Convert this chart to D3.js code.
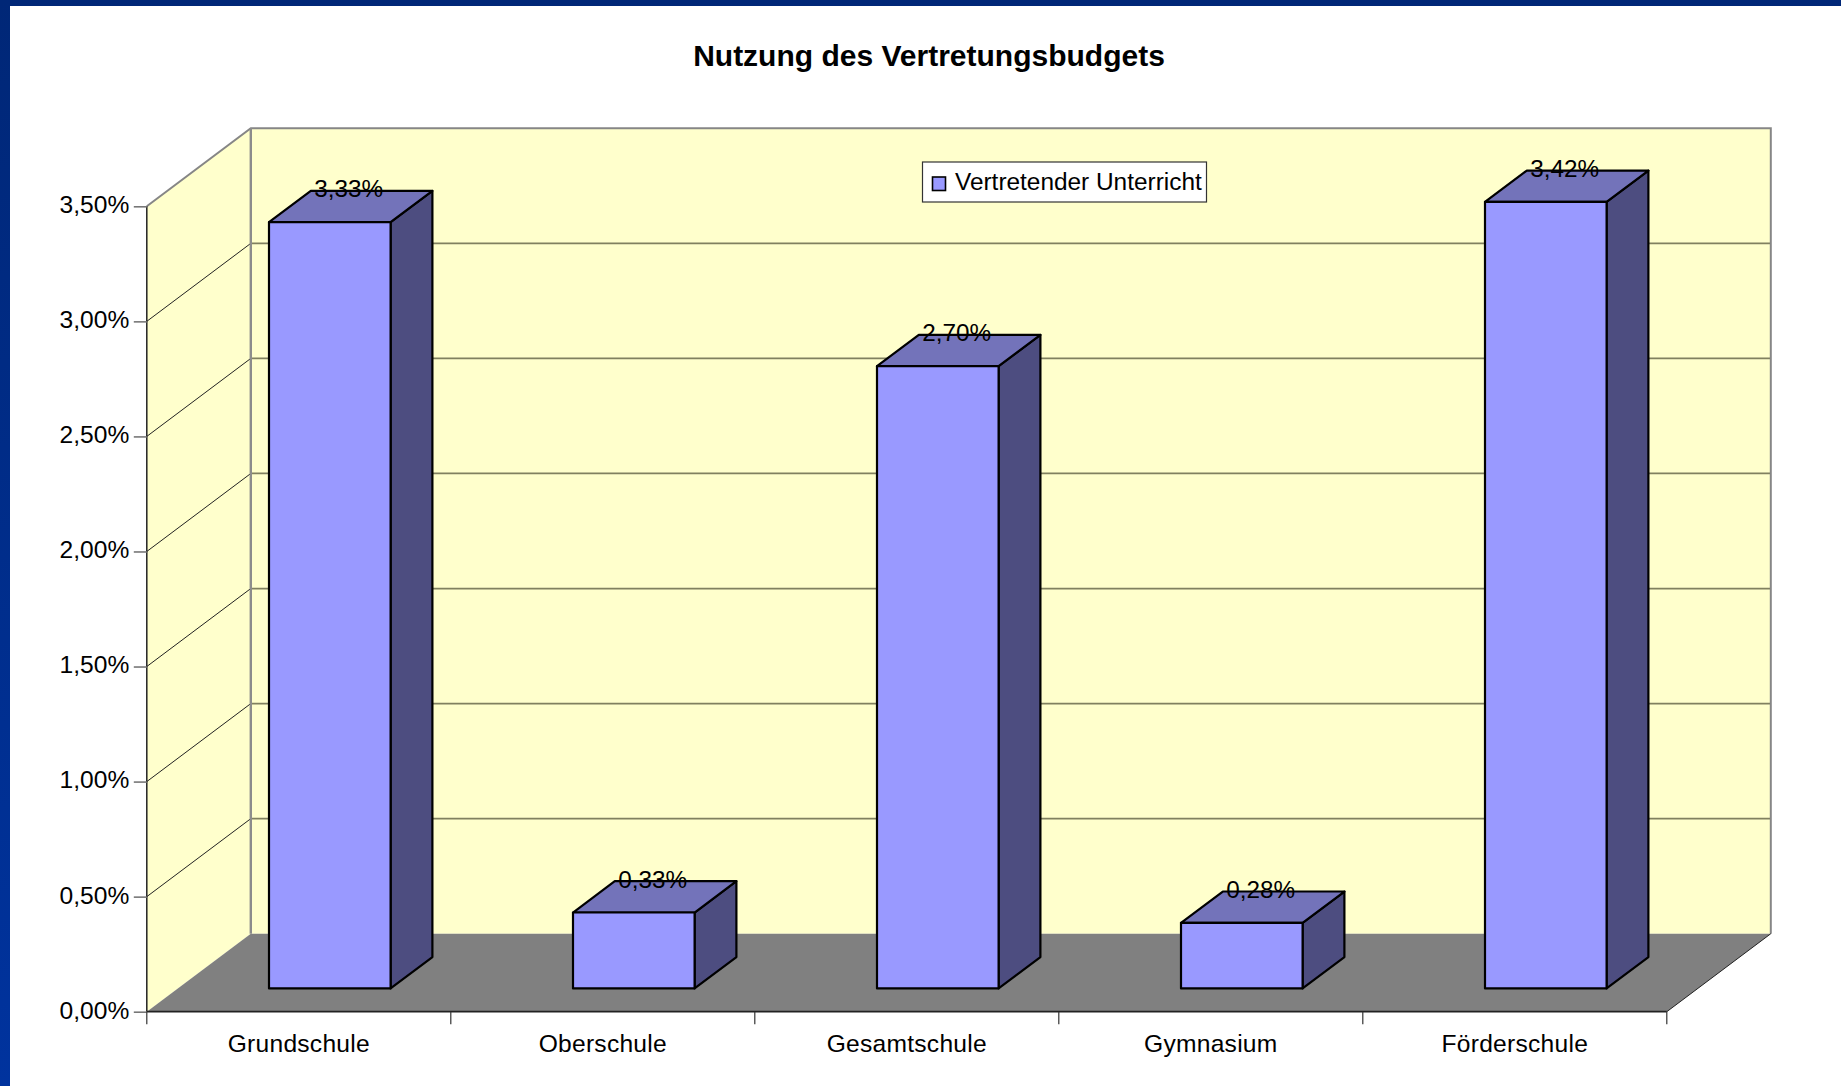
<!DOCTYPE html>
<html><head><meta charset="utf-8">
<script src="https://cdn.jsdelivr.net/npm/d3@7/dist/d3.min.js"></script>
<style>
html,body{margin:0;padding:0;background:#fff;overflow:hidden}
svg{display:block}
text{font-family:"Liberation Sans",Arial,sans-serif;fill:#000}
</style></head><body>
<svg id="c" width="1841" height="1086"></svg>
<script>
const categories = ["Grundschule","Oberschule","Gesamtschule","Gymnasium","Förderschule"];
const seriesName = "Vertretender Unterricht";
const values = [3.33,0.33,2.704,0.285,3.418];
const valueLabels = ["3,33%","0,33%","2,70%","0,28%","3,42%"];
const yTicks = [0,0.5,1,1.5,2,2.5,3,3.5];
const chartTitle = "Nutzung des Vertretungsbudgets";

const svg = d3.select("#c");
const defs = svg.append("defs");
const g = defs.append("linearGradient").attr("id","frame").attr("x1",0).attr("y1",0).attr("x2",0).attr("y2",1);
g.append("stop").attr("offset",0).attr("stop-color","#002777");
g.append("stop").attr("offset",1).attr("stop-color","#00339E");

// frame
svg.append("rect").attr("width",1841).attr("height",1086).attr("fill","url(#frame)");
svg.append("rect").attr("x",10).attr("y",6).attr("width",1831).attr("height",1080).attr("fill","#fff");

// scales and oblique projection
const x = d3.scaleBand().domain(categories).range([146.8,1666.8]).paddingInner(0).paddingOuter(0);
const y = d3.scaleLinear().domain([0,3.5]).range([1011.7,206.3]);
const depthX = 104, depthY = -78;
const P = (px,v,d=0) => [px + depthX*d, y(v) + depthY*d];
const pts = a => a.map(p=>p.join(",")).join(" ");
const x0 = x.range()[0], x1 = x.range()[1], vMax = 3.5;

// walls and floor
svg.append("polygon").attr("points",pts([P(x0,0,0),P(x0,vMax,0),P(x0,vMax,1),P(x0,0,1)])).attr("fill","#FFFFCC");
svg.append("polygon").attr("points",pts([P(x0,0,1),P(x0,vMax,1),P(x1,vMax,1),P(x1,0,1)])).attr("fill","#FFFFCC");
svg.append("polygon").attr("points",pts([P(x0,0,0),P(x1,0,0),P(x1,0,1),P(x0,0,1)])).attr("fill","#808080");

// gridlines
const inner = yTicks.filter(t=>t>0 && t<vMax);
svg.append("g").selectAll("line").data(inner).join("line")
  .attr("x1",t=>P(x0,t,1)[0]).attr("x2",t=>P(x1,t,1)[0])
  .attr("y1",t=>P(x0,t,1)[1]).attr("y2",t=>P(x1,t,1)[1])
  .attr("stroke","#80805F").attr("stroke-width",1.8);
svg.append("g").selectAll("line").data(inner).join("line")
  .attr("x1",t=>P(x0,t,0)[0]).attr("x2",t=>P(x0,t,1)[0])
  .attr("y1",t=>P(x0,t,0)[1]).attr("y2",t=>P(x0,t,1)[1])
  .attr("stroke","#222").attr("stroke-width",1);

// wall outlines
svg.append("polyline").attr("points",pts([P(x0,vMax,0),P(x0,vMax,1),P(x1,vMax,1),P(x1,0,1)]))
  .attr("fill","none").attr("stroke","#868686").attr("stroke-width",2);
svg.append("line").attr("x1",P(x0,0,1)[0]).attr("x2",P(x0,vMax,1)[0]).attr("y1",P(x0,0,1)[1]).attr("y2",P(x0,vMax,1)[1])
  .attr("stroke","#8c8c8c").attr("stroke-width",2.4);
svg.append("line").attr("x1",P(x1,0,0)[0]).attr("x2",P(x1,0,1)[0]).attr("y1",P(x1,0,0)[1]).attr("y2",P(x1,0,1)[1])
  .attr("stroke","#222").attr("stroke-width",1);

// value axis
const fmt = d3.formatLocale({decimal:",",thousands:".",grouping:[3],currency:["","€"]}).format(".2f");
const yAxis = svg.append("g").attr("transform",`translate(${x0},0)`)
  .call(d3.axisLeft(y).tickValues(yTicks).tickSize(13).tickPadding(4.5).tickFormat(d=>fmt(d)+"%"));
yAxis.select(".domain").attr("stroke","#222").attr("stroke-width",1.5).attr("d",`M0,${y(vMax)}V${y(0)}`);
yAxis.selectAll(".tick line").attr("stroke","#777").attr("stroke-width",1.6);
yAxis.selectAll("text").attr("font-size",24.6).attr("font-family",'"Liberation Sans",Arial,sans-serif').attr("fill","#111").attr("dy","0.26em");

// category axis
const xAxis = svg.append("g").attr("transform",`translate(0,${y(0)})`)
  .call(d3.axisBottom(x).tickSize(0).tickPadding(23));
xAxis.select(".domain").attr("stroke","#222").attr("stroke-width",1.8).attr("d",`M${x0},0H${x1}`);
xAxis.selectAll("text").attr("font-size",24.6).attr("letter-spacing",0.25).attr("font-family",'"Liberation Sans",Arial,sans-serif').attr("fill","#111");
const edges = categories.map(c=>x(c)).concat([x1]);
svg.append("g").selectAll("line").data(edges).join("line")
  .attr("x1",d=>d).attr("x2",d=>d).attr("y1",y(0)).attr("y2",y(0)+12.5)
  .attr("stroke","#333").attr("stroke-width",1.2);

// bars: gap width 150%, depth centred in the floor
const barW = x.bandwidth()/2.5;
const dStart = 31/depthX, dEnd = (31+41.8)/depthX;
const bars = svg.append("g").selectAll("g").data(categories).join("g");
const barStyle = s => s.attr("stroke","#000").attr("stroke-width",2.2).attr("stroke-linejoin","round");
bars.each(function(c,i){
  const v = values[i], sel = d3.select(this);
  const l = x(c)+x.bandwidth()/2-barW/2, r = l+barW;
  sel.append("polygon").attr("points",pts([P(r,0,dStart),P(r,0,dEnd),P(r,v,dEnd),P(r,v,dStart)])).attr("fill","#4D4D80").call(barStyle);
  sel.append("polygon").attr("points",pts([P(l,v,dStart),P(r,v,dStart),P(r,v,dEnd),P(l,v,dEnd)])).attr("fill","#7373BA").call(barStyle);
  sel.append("polygon").attr("points",pts([P(l,0,dStart),P(r,0,dStart),P(r,v,dStart),P(l,v,dStart)])).attr("fill","#9999FF").call(barStyle);
  const top = P((l+r)/2,v,dEnd);
  sel.append("text").attr("x",top[0]-23).attr("y",top[1]+6.5).attr("text-anchor","middle").attr("font-size",24.3).attr("fill","#111").text(valueLabels[i]);
});

// legend
const lg = svg.append("g");
lg.append("rect").attr("x",922.5).attr("y",162).attr("width",284).attr("height",40).attr("fill","#fff").attr("stroke","#333").attr("stroke-width",1.2);
lg.append("rect").attr("x",932.5).attr("y",177).attr("width",13).attr("height",13.5).attr("fill","#9999FF").attr("stroke","#000").attr("stroke-width",1.6);
lg.append("text").attr("x",955).attr("y",190).attr("font-size",24.4).attr("fill","#111").text(seriesName);

// title
svg.append("text").attr("x",929).attr("y",66).attr("text-anchor","middle").attr("font-size",30).attr("font-weight","bold").text(chartTitle);
</script>
</body></html>
